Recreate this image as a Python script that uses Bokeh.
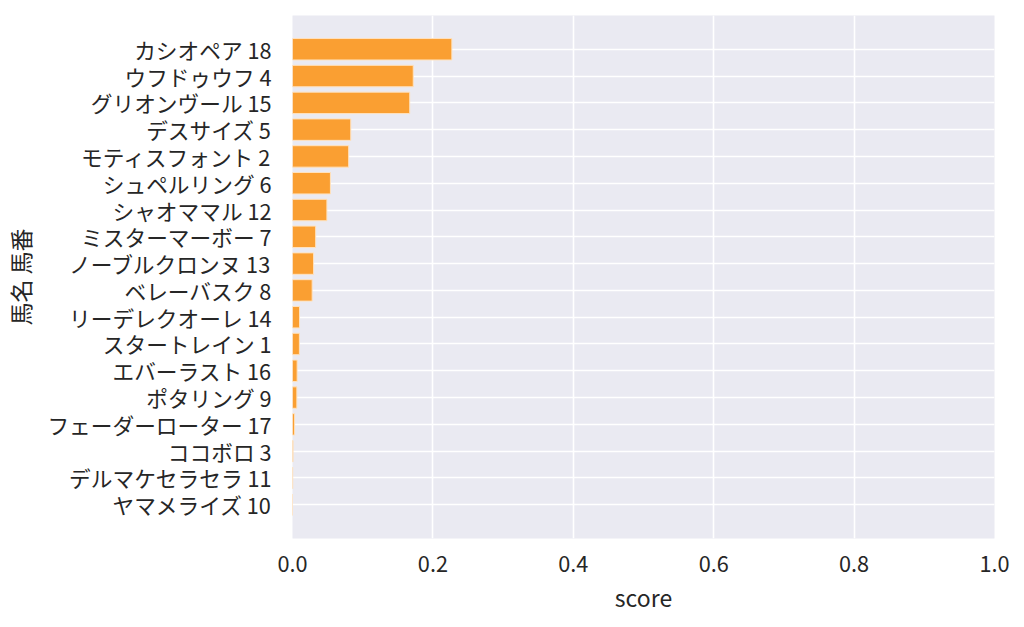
from bokeh.plotting import figure
from bokeh.models import FactorRange, Range1d, FixedTicker, NumeralTickFormatter, ColumnDataSource
from bokeh.embed import file_html
from bokeh.resources import INLINE

# data (top to bottom as in the reference)
horses = ["カシオペア 18", "ウフドゥウフ 4", "グリオンヴール 15", "デスサイズ 5",
          "モティスフォント 2", "シュペルリング 6", "シャオママル 12", "ミスターマーボー 7",
          "ノーブルクロンヌ 13", "ベレーバスク 8", "リーデレクオーレ 14", "スタートレイン 1",
          "エバーラスト 16", "ポタリング 9", "フェーダーローター 17", "ココボロ 3",
          "デルマケセラセラ 11", "ヤマメライズ 10"]
scores = [0.227, 0.172, 0.167, 0.083, 0.080, 0.054, 0.049, 0.033,
          0.030, 0.028, 0.010, 0.0098, 0.0066, 0.0062, 0.003, 0.0008,
          0.0003, 0.0]
x_ticks = [0.0, 0.2, 0.4, 0.6, 0.8, 1.0]

FONT = "Noto Sans CJK JP"

src = ColumnDataSource(dict(horse=horses, score=scores))

p = figure(width=1016, height=619, output_backend="svg", toolbar_location=None,
           y_range=FactorRange(factors=list(reversed(horses)), range_padding=0.76,
                               range_padding_units="absolute"),
           x_range=Range1d(0, 1.0),
           min_border_left=292, min_border_right=22, min_border_top=15, min_border_bottom=81)

p.hbar(y="horse", right="score", left=0, height=0.8, source=src,
       fill_color="#FA9F32", line_color="#FFE2BE", line_width=1)

p.background_fill_color = "#EAEAF2"
p.border_fill_color = "white"
p.outline_line_color = None

p.xgrid.ticker = FixedTicker(ticks=x_ticks)
p.xaxis.ticker = FixedTicker(ticks=x_ticks)
p.xaxis.formatter = NumeralTickFormatter(format="0.0")
for g in (p.xgrid, p.ygrid):
    g.grid_line_color = "white"
    g.grid_line_width = 1.6
p.grid.level = "underlay"

for ax in (p.xaxis, p.yaxis):
    ax.axis_line_color = None
    ax.major_tick_line_color = None
    ax.minor_tick_line_color = None
    ax.major_label_text_font = FONT
    ax.major_label_text_font_size = "21.7px"
    ax.major_label_text_color = "#262626"
    ax.axis_label_text_font = FONT
    ax.axis_label_text_font_size = "23px"
    ax.axis_label_text_font_style = "normal"
    ax.axis_label_text_color = "#262626"

p.xaxis.axis_label = "score"
p.yaxis.axis_label = "馬名 馬番"
p.yaxis.major_label_standoff = 15
p.xaxis.major_label_standoff = 11
p.yaxis.axis_label_standoff = 7
p.xaxis.axis_label_standoff = 5

open("out.html", "w").write(file_html(p, INLINE))
